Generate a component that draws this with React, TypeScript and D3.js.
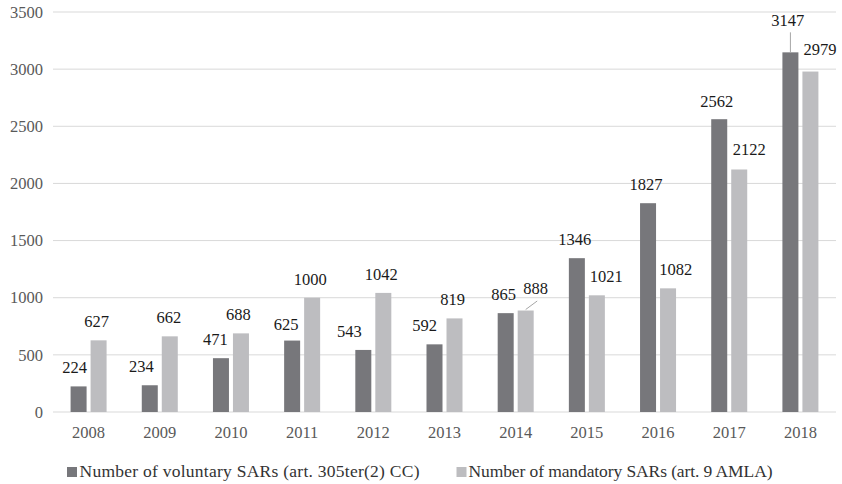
import React from "react";
import * as d3 from "d3";

// Suspicious activity reports per year
const years = ["2008", "2009", "2010", "2011", "2012", "2013", "2014", "2015", "2016", "2017", "2018"];
const voluntary = [224, 234, 471, 625, 543, 592, 865, 1346, 1827, 2562, 3147];
const mandatory = [627, 662, 688, 1000, 1042, 819, 888, 1021, 1082, 2122, 2979];
const seriesNames = [
  "Number of voluntary SARs (art. 305ter(2) CC)",
  "Number of mandatory SARs (art. 9 AMLA)",
];
const yTicks = [0, 500, 1000, 1500, 2000, 2500, 3000, 3500];

// Label layout: horizontal nudge (px) and gap from bar top to baseline (px)
type Nudge = { dx: number; gap: number; leader?: boolean };
const voluntaryNudges: Nudge[] = [
  { dx: -4, gap: 13 },
  { dx: -8.5, gap: 13 },
  { dx: -5.5, gap: 13 },
  { dx: -6, gap: 10.5 },
  { dx: -14, gap: 13 },
  { dx: -10, gap: 13 },
  { dx: -2, gap: 13.5 },
  { dx: -2, gap: 13.5 },
  { dx: -2, gap: 13 },
  { dx: -2.5, gap: 12.5 },
  { dx: -2.7, gap: 26, leader: true },
];
const mandatoryNudges: Nudge[] = [
  { dx: -2, gap: 13.5 },
  { dx: -1, gap: 13 },
  { dx: -2.5, gap: 13 },
  { dx: -2, gap: 12.7 },
  { dx: -2, gap: 13 },
  { dx: -2, gap: 13 },
  { dx: 10, gap: 17, leader: true },
  { dx: 9.4, gap: 13.6 },
  { dx: 7.7, gap: 13.3 },
  { dx: 10, gap: 14.5 },
  { dx: 9.5, gap: 16.5 },
];

const W = 842;
const H = 484;
const FONT = '"Liberation Serif", "Times New Roman", serif';
const COLORS = ["#77777b", "#bdbdc0"];
const GRID = "#d9d9d9";
const AXIS_TEXT = "#595959";
const FS = 16.5;
const LEGEND_FS = 17.5;

export default function App() {
  const left = 53;
  const right = 836;
  const top = 12;
  const bottom = 412;

  const x = d3.scaleBand<string>().domain(years).range([left, right]).padding(0);
  const y = d3.scaleLinear().domain([0, 3500]).range([bottom, top]);
  const pairWidth = 36;
  const x1 = d3
    .scaleBand<number>()
    .domain([0, 1])
    .range([-pairWidth / 2, pairWidth / 2])
    .paddingInner(0.2)
    .paddingOuter(0);

  const series = [voluntary, mandatory];
  const nudges = [voluntaryNudges, mandatoryNudges];

  return (
    <svg
      width={W}
      height={H}
      style={{ position: "absolute", left: 0, top: 0, background: "#fff", fontFamily: FONT }}
    >
      {/* horizontal gridlines and value axis */}
      {yTicks.map((t) => (
        <g key={t}>
          <line x1={left} x2={right} y1={y(t)} y2={y(t)} stroke={GRID} strokeWidth={1} />
          <text x={43} y={y(t)} dy="0.35em" textAnchor="end" fontSize={FS} fill={AXIS_TEXT}>
            {t}
          </text>
        </g>
      ))}

      {/* category axis labels */}
      {years.map((yr) => (
        <text
          key={yr}
          x={(x(yr) ?? 0) + x.bandwidth() / 2}
          y={438}
          textAnchor="middle"
          fontSize={FS}
          fill={AXIS_TEXT}
        >
          {yr}
        </text>
      ))}

      {/* bars */}
      {series.map((vals, si) =>
        vals.map((v, i) => {
          const cx = (x(years[i]) ?? 0) + x.bandwidth() / 2;
          const bx = cx + (x1(si) ?? 0);
          return (
            <rect
              key={`b${si}-${i}`}
              x={bx}
              y={y(v)}
              width={x1.bandwidth()}
              height={y(0) - y(v)}
              fill={COLORS[si]}
            />
          );
        })
      )}

      {/* value labels */}
      {series.map((vals, si) =>
        vals.map((v, i) => {
          const cx = (x(years[i]) ?? 0) + x.bandwidth() / 2;
          const barCx = cx + (x1(si) ?? 0) + x1.bandwidth() / 2;
          const n = nudges[si][i];
          const lx = barCx + n.dx;
          const ly = y(v) - n.gap;
          let leader: React.ReactNode = null;
          if (n.leader) {
            if (si === 0) {
              leader = (
                <line x1={barCx} x2={barCx} y1={ly + 6} y2={y(v)} stroke="#a6a6a6" strokeWidth={1} />
              );
            } else {
              leader = (
                <line x1={barCx} x2={lx + 1.5} y1={y(v) - 1} y2={ly + 7.5} stroke="#a6a6a6" strokeWidth={1} />
              );
            }
          }
          return (
            <g key={`l${si}-${i}`}>
              {leader}
              <text x={lx} y={ly} textAnchor="middle" fontSize={FS} fill="#1a1a1a">
                {v}
              </text>
            </g>
          );
        })
      )}

      {/* legend */}
      <g>
        <rect x={67} y={467} width={10} height={10} fill={COLORS[0]} />
        <text x={79.5} y={477} fontSize={LEGEND_FS} fill="#333" textLength={340} lengthAdjust="spacing">
          {seriesNames[0]}
        </text>
        <rect x={456.5} y={467} width={10} height={10} fill={COLORS[1]} />
        <text x={468.5} y={477} fontSize={LEGEND_FS} fill="#333" textLength={304} lengthAdjust="spacing">
          {seriesNames[1]}
        </text>
      </g>
    </svg>
  );
}
